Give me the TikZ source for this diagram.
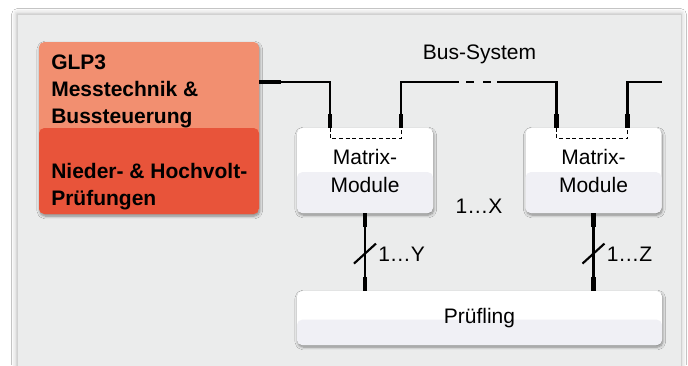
\documentclass[tikz,border=0pt]{standalone}
\usepackage{fontspec}
\setmainfont{Liberation Sans}
\usepackage{tikz}
\usetikzlibrary{calc,positioning,shadows.blur}
\definecolor{panelgrey}{RGB}{235,236,236}
\definecolor{ctrlhigh}{RGB}{242,143,112}
\definecolor{ctrllow}{RGB}{232,84,58}
\definecolor{modlow}{RGB}{240,240,245}

\begin{document}
\begin{tikzpicture}[
    x=0.75pt, y=-0.75pt,
    font=\fontsize{15.75}{21}\selectfont,
    shad/.style={blur shadow={shadow xshift=0.6pt, shadow yshift=-1.5pt,
                 shadow blur steps=6, shadow opacity=45}},
    ctrlbox/.style={fill=ctrlhigh, rounded corners=4pt, minimum width=165pt,
                    minimum height=129pt, shad,
                    path picture={\fill[ctrllow] (path picture bounding box.west)
                        rectangle (path picture bounding box.south east);}},
    modbox/.style={fill=white, rounded corners=4pt, minimum width=102pt,
                   minimum height=63.75pt, shad, align=center,
                   path picture={\fill[modlow] ([yshift=-1.2pt]path picture bounding box.west)
                        rectangle (path picture bounding box.south east);}},
    dutbox/.style={modbox, minimum width=273.75pt, minimum height=40.5pt},
    boldtxt/.style={font=\fontsize{15.75}{20}\selectfont\bfseries, align=left,
                    inner sep=0pt, anchor=north west},
    bus/.style={line width=2.2pt},
    stub/.style={line width=3.6pt},
    port/.style={densely dashed, line width=0.6pt},
    slash/.style={line width=1.6pt}
]
\useasboundingbox (0,0) rectangle (688,365);
\fill[white] (0,0) rectangle (688,365);
\fill[panelgrey, draw=black!18, blur shadow={shadow xshift=0pt, shadow yshift=0pt,
      shadow blur radius=4pt, shadow opacity=30}] (17,14) rectangle (681,380);

% controller
\node[ctrlbox] (ctrl) at (149,128) {};
\node[boldtxt] (glp) at (51,55) {GLP3\\Messtechnik \&\\Bussteuerung};
\node[boldtxt] (hv) at (51,163) {Nieder- \& Hochvolt-\\Prüfungen};

% matrix modules and device under test
\node[modbox] (mod1) at (365,170.5) {Matrix-\\Module};
\node[modbox] (mod2) at (593.5,170.5) {Matrix-\\Module};
\node[dutbox] (dut) at (479.5,318) {Prüfling};

\node (busname) at (479.5,54.5) {Bus-System};
\node (nmod) at (479,206.5) {1\ldots X};

% bus
\coordinate (p1a) at ($(mod1.north)+(-35,0)$);
\coordinate (p1b) at ($(mod1.north)+(36,0)$);
\coordinate (p2a) at ($(mod2.north)+(-37,0)$);
\coordinate (p2b) at ($(mod2.north)+(34,0)$);
\coordinate (gapL) at (459,82);
\coordinate (gapR) at (497,82);
\coordinate (busend) at (662,82);

\draw[bus] (ctrl.east |- gapL) -| (p1a);
\draw[bus] (p1b) |- (gapL);
\draw[bus] (466,82) -- (474,82);
\draw[bus] (483,82) -- (491,82);
\draw[bus] (gapR) -| (p2a);
\draw[bus] (p2b) |- (busend);
\draw[stub] (ctrl.east |- gapL) -- ++(22,0);
\foreach \p in {p1a,p1b,p2a,p2b}
  \draw[stub] (\p) -- ++(0,-14);
\draw[port] (p1a) -- ++(0,11) -| (p1b);
\draw[port] (p2a) -- ++(0,11) -| (p2b);

% links to device under test
\draw[bus] (mod1.south) -- (dut.north -| mod1.south);
\draw[bus] (mod2.south) -- (dut.north -| mod2.south);
\draw[stub] (mod1.south) -- ++(0,14);
\draw[stub] (dut.north -| mod1.south) -- ++(0,-14);
\draw[stub] (mod2.south) -- ++(0,14);
\draw[stub] (dut.north -| mod2.south) -- ++(0,-14);
\coordinate (s1) at ($(mod1.south)!0.52!(dut.north -| mod1.south)$);
\coordinate (s2) at ($(mod2.south)!0.52!(dut.north -| mod2.south)$);
\draw[slash] ($(s1)+(-11,10)$) -- ++(22,-20);
\draw[slash] ($(s2)+(-11,10)$) -- ++(22,-20);
\node[anchor=west, inner sep=0pt] (ny) at ($(s1)+(13,1)$) {1\ldots Y};
\node[anchor=west, inner sep=0pt] (nz) at ($(s2)+(13,1)$) {1\ldots Z};
\end{tikzpicture}
\end{document}
